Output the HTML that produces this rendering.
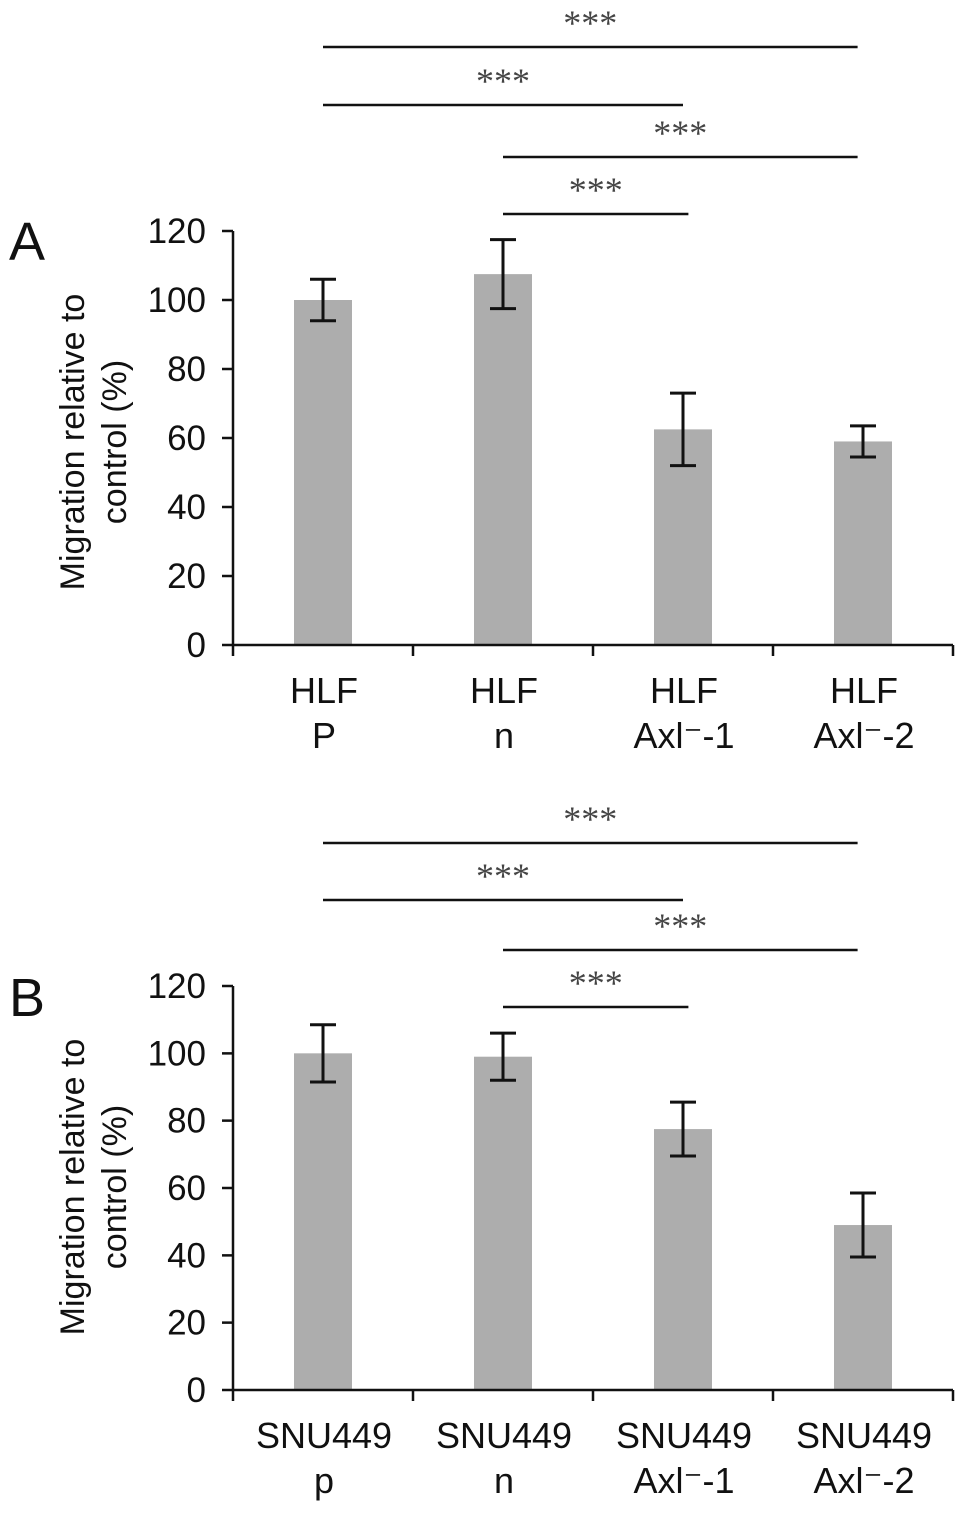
<!DOCTYPE html>
<html><head><meta charset="utf-8"><style>
body{margin:0;background:#fff}
svg{display:block;font-family:"Liberation Sans",Arial,sans-serif}
</style></head><body>
<svg id="chart" width="969" height="1513" viewBox="0 0 969 1513"></svg>
<script>
const catsA1 = ["HLF","HLF","HLF","HLF"];
const catsA2 = ["P","n","Axl|-1","Axl|-2"];
const valsA = [100, 107.5, 62.5, 59];
const errA = [6, 10, 10.5, 4.5];
const catsB1 = ["SNU449","SNU449","SNU449","SNU449"];
const catsB2 = ["p","n","Axl|-1","Axl|-2"];
const valsB = [100, 99, 77.5, 49];
const errB = [8.5, 7, 8, 9.5];
const yTicks = [0,20,40,60,80,100,120];
const sigA = [[0,2.97,47],[0,2,105],[1,2.97,157],[1,2.03,214]];
const sigB = [[0,2.97,843],[0,2,900],[1,2.97,950],[1,2.03,1007]];

const NS="http://www.w3.org/2000/svg";
const svg=document.getElementById('chart');
function mk(t,a,p){const e=document.createElementNS(NS,t);for(const k in a)e.setAttribute(k,a[k]);(p||svg).appendChild(e);return e;}

function panel(letter,x0,y0,y120,c1,c2,vals,errs,sig,titleY,labY1,labY2,letterY){
  const g=mk('g',{});
  
  
  const cw=180;
  const yS=v=>y0-(y0-y120)*v/120;
  const xC=i=>x0+cw*(i+0.5);
  const L=mk('text',{x:9,y:letterY,'font-size':54,fill:'#111'},g);L.textContent=letter;
  
  
  vals.forEach((v,i)=>{
    const b=mk('rect',{x:xC(i)-29,y:yS(v),width:58,height:y0-yS(v),fill:'#adadad'},g);
    
    
    const e=errs[i],t=yS(v+e),bt=yS(v-e),cx=xC(i);
    const eb=mk('path',{d:`M${cx},${t}V${bt}M${cx-13},${t}H${cx+13}M${cx-13},${bt}H${cx+13}`,stroke:'#111','stroke-width':3,fill:'none'},g);
    
    
  });
  let d=`M${x0},${y120}V${y0}H${x0+cw*4}`;
  yTicks.forEach(t=>{d+=`M${x0-11},${yS(t)}H${x0}`;});
  for(let i=0;i<=4;i++)d+=`M${x0+cw*i},${y0}V${y0+11}`;
  const ax=mk('path',{d:d,stroke:'#111','stroke-width':2.5,fill:'none'},g);
  
  
  yTicks.forEach(t=>{const tx=mk('text',{x:x0-27,y:yS(t)+12,'font-size':35,'text-anchor':'end',fill:'#111'},g);tx.textContent=t;
    
    });
  const ti=mk('text',{transform:`translate(86,${titleY}) rotate(-90)`,'font-size':34,'text-anchor':'middle',fill:'#111'},g);
  
  
  const s1=mk('tspan',{x:0,dy:-2},ti);s1.textContent='Migration relative to';
  const s2=mk('tspan',{x:0,dy:42},ti);s2.textContent='control (%)';
  c1.forEach((c,i)=>{
    const a=mk('text',{x:xC(i)+1,y:labY1,'font-size':36,'text-anchor':'middle',fill:'#111'},g);a.textContent=c;
    
    
    const b=mk('text',{x:xC(i)+1,y:labY2,'font-size':36,'text-anchor':'middle',fill:'#111'},g);
    
    
    const p=c2[i].split('|');
    b.textContent=p.length>1?p[0]+'\u207B'+p[1]:p[0];
  });
  sig.forEach(s=>{
    const xa=xC(s[0]),xb=xC(s[1]);
    const l=mk('line',{x1:xa,x2:xb,y1:s[2],y2:s[2],stroke:'#111','stroke-width':2.5},g);
    
    
    const st=mk('text',{x:(xa+xb)/2,y:s[2]-12,'font-size':36,'text-anchor':'middle',fill:'#444','font-family':'Liberation Serif,serif'},g);st.textContent='***';
    
    
  });
}
panel('A',233,645,231,catsA1,catsA2,valsA,errA,sigA,442,703,748,260);
panel('B',233,1390,986,catsB1,catsB2,valsB,errB,sigB,1187,1448,1493,1016);
</script>
</body></html>
